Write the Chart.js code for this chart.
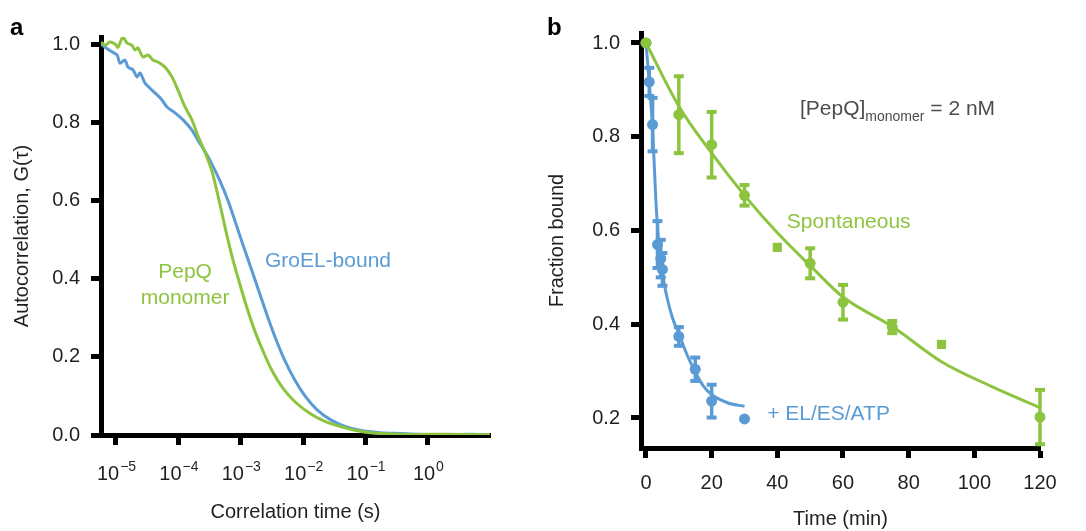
<!DOCTYPE html>
<html>
<head>
<meta charset="utf-8">
<script src="https://cdn.jsdelivr.net/npm/chart.js@4.4.0/dist/chart.umd.min.js"></script>
<style>
  html, body { margin: 0; padding: 0; background: #fff; }
  #wrap { position: relative; width: 1086px; height: 531px; }
  #boxA { position: absolute; left: 0; top: 0; width: 530px; height: 531px; }
  #boxB { position: absolute; left: 530px; top: 0; width: 556px; height: 531px; }
</style>
</head>
<body>
<div id="wrap">
  <div id="boxA"><canvas id="chartA"></canvas></div>
  <div id="boxB"><canvas id="chartB"></canvas></div>
</div>
<script>
// panel a: FCS autocorrelation curves (log time axis)
const monomerTau = [5.8e-6, 6.66e-6, 8.01e-6, 9.64e-6, 1.076e-5, 1.29e-5, 1.5e-5, 1.8e-5, 2.01e-5, 2.25e-5,
  2.71e-5, 3.26e-5, 3.92e-5, 4.71e-5, 6.1e-5, 7.89e-5, 9.86e-5, 1.28e-4, 1.65e-4, 2.06e-4, 2.57e-4,
  3.45e-4, 4.64e-4, 6.01e-4, 7.5e-4, 9.71e-4, 1.26e-3, 1.69e-3, 2.27e-3, 3.16e-3, 4.74e-3, 7.39e-3,
  1.29e-2, 2.23e-2, 3.89e-2, 6.76e-2, 0.118, 0.246, 0.515, 1.08, 2.25, 4.71, 9.8];
const monomerG = [1.005, 0.997, 1.005, 1.0, 0.992, 1.018, 1.003, 0.997, 0.985, 0.99,
  0.967, 0.972, 0.959, 0.954, 0.941, 0.916, 0.882, 0.839, 0.806, 0.765, 0.73,
  0.675, 0.59, 0.51, 0.448, 0.385, 0.325, 0.265, 0.215, 0.165, 0.12, 0.085,
  0.055, 0.035, 0.022, 0.012, 0.006, 0.003, 0.001, 0.002, 0.002, 0.001, 0.001];
const groelTau = [5.8e-6, 6.66e-6, 8.63e-6, 1.04e-5, 1.16e-5, 1.39e-5, 1.56e-5, 1.87e-5, 2.17e-5, 2.43e-5,
  2.92e-5, 3.51e-5, 4.22e-5, 5.46e-5, 6.57e-5, 8.82e-5, 1.19e-4, 1.65e-4, 2.06e-4, 2.67e-4, 3.45e-4,
  4.64e-4, 6.24e-4, 8.38e-4, 1.12e-3, 1.51e-3, 2.03e-3, 2.73e-3, 3.66e-3, 5.1e-3, 7.39e-3, 1.07e-2,
  1.66e-2, 2.69e-2, 4.68e-2, 8.13e-2, 0.17, 0.356, 0.745, 1.87, 4.71, 9.8];
const groelG = [1.0, 0.992, 0.98, 0.972, 0.951, 0.959, 0.941, 0.934, 0.916, 0.926,
  0.9, 0.887, 0.875, 0.857, 0.839, 0.824, 0.806, 0.78, 0.754, 0.725, 0.693,
  0.65, 0.6, 0.54, 0.48, 0.42, 0.36, 0.3, 0.245, 0.19, 0.14, 0.1,
  0.065, 0.04, 0.022, 0.012, 0.006, 0.004, 0.002, 0.001, 0.002, 0.001];
const decadeTicks = [1e-5, 1e-4, 1e-3, 1e-2, 1e-1, 1];
const decadeExps = ['\u22125', '\u22124', '\u22123', '\u22122', '\u22121', '0'];
const gTicks = [0, 0.2, 0.4, 0.6, 0.8, 1.0];

// panel b: release kinetics
const spontTime = [0, 10, 20, 30, 40, 50, 60, 75, 90, 120];
const spontFrac = [1.0, 0.847, 0.783, 0.675, 0.564, 0.53, 0.447, 0.394, 0.357, 0.202];
const spontErr  = [0, 0.082, 0.07, 0.022, 0, 0.032, 0.037, 0.013, 0, 0.058];
const spontFitTime = [0, 10, 20, 30, 40, 50, 60, 75, 90, 105, 120];
const spontFitFrac = [1.0, 0.865, 0.765, 0.675, 0.595, 0.525, 0.458, 0.395, 0.32, 0.268, 0.222];
const chapTime = [0, 1, 2, 3.5, 4.5, 5, 10, 15, 20, 30];
const chapFrac = [1.0, 0.917, 0.826, 0.57, 0.54, 0.517, 0.374, 0.304, 0.236, 0.198];
const chapErr  = [0, 0.03, 0.057, 0.05, 0.04, 0.035, 0.02, 0.025, 0.035, 0];
const chapFitTime = [0, 1, 2, 3, 4, 5, 6, 8, 10, 12.5, 15, 17.5, 20, 25, 30];
const chapFitFrac = [1.0, 0.915, 0.82, 0.665, 0.565, 0.51, 0.47, 0.415, 0.38, 0.335, 0.298, 0.268, 0.25, 0.232, 0.225];
const timeTicks = [0, 20, 40, 60, 80, 100, 120];
const fracTicks = [0.2, 0.4, 0.6, 0.8, 1.0];

const FONT = "'Liberation Sans', Arial, Helvetica, sans-serif";
const INK = '#231f20';
const GREEN = '#8dc43f';
const BLUE = '#5b9bd5';

const pts = (xs, ys) => xs.map((x, i) => ({x: x, y: ys[i]}));

function axis(o) {
  return Object.assign({
    border: {display: true, width: 5, color: '#000'},
    grid: {display: true, drawOnChartArea: false, drawTicks: true, tickLength: 10, tickWidth: 5, tickColor: '#000'},
  }, o);
}

// text placed in data coordinates (or pixels when px is set)
const textPlugin = {
  id: 'texts',
  afterDraw(chart, args, opts) {
    const ctx = chart.ctx, xs = chart.scales.x, ys = chart.scales.y;
    ctx.save();
    ctx.textBaseline = 'alphabetic';
    (opts.items || []).forEach(it => {
      let x = it.px ? it.x : xs.getPixelForValue(it.x);
      const y = it.px ? it.y : ys.getPixelForValue(it.y);
      const parts = it.parts || [{t: it.text}];
      ctx.fillStyle = it.color;
      const size = it.size || 21;
      const fontFor = p => (it.bold ? 'bold ' : '') + (p.sub ? Math.round(size * 0.68) : size) + 'px ' + FONT;
      let total = 0;
      parts.forEach(p => { ctx.font = fontFor(p); total += ctx.measureText(p.t).width; });
      if (it.align === 'center') x -= total / 2;
      ctx.textAlign = 'left';
      parts.forEach(p => {
        ctx.font = fontFor(p);
        ctx.fillText(p.t, x, y + size * 0.36 + (p.sub ? size * 0.3 : 0));
        x += ctx.measureText(p.t).width;
      });
    });
    ctx.restore();
  }
};

// vertical error bars with caps
const errorBarPlugin = {
  id: 'errorBars',
  afterDatasetsDraw(chart) {
    const ctx = chart.ctx, xs = chart.scales.x, ys = chart.scales.y;
    chart.data.datasets.forEach(ds => {
      if (!ds.errors) return;
      ctx.save();
      ctx.strokeStyle = ds.borderColor;
      ctx.fillStyle = ds.borderColor;
      ctx.lineWidth = 3.5;
      ds.data.forEach((p, i) => {
        const e = ds.errors[i];
        if (!e) return;
        const x = xs.getPixelForValue(p.x);
        const yTop = ys.getPixelForValue(p.y + e), yBot = ys.getPixelForValue(p.y - e);
        ctx.beginPath();
        ctx.moveTo(x, yTop); ctx.lineTo(x, yBot);
        ctx.stroke();
        ctx.fillRect(x - 5, yTop - 2, 10, 4);
        ctx.fillRect(x - 5, yBot - 2, 10, 4);
      });
      ctx.restore();
    });
  }
};

// superscript decade labels for the log axis
const decadeLabelPlugin = {
  id: 'decadeLabels',
  afterDraw(chart) {
    const ctx = chart.ctx, xs = chart.scales.x;
    ctx.save();
    ctx.fillStyle = INK;
    ctx.textAlign = 'left';
    ctx.textBaseline = 'alphabetic';
    decadeTicks.forEach((v, i) => {
      const px = xs.getPixelForValue(v);
      ctx.font = '20px ' + FONT;
      const wBase = ctx.measureText('10').width;
      ctx.font = '14px ' + FONT;
      const wExp = ctx.measureText(decadeExps[i]).width;
      const x0 = px - (wBase + wExp) / 2;
      ctx.font = '20px ' + FONT;
      ctx.fillText('10', x0, 480);
      ctx.font = '14px ' + FONT;
      ctx.fillText(decadeExps[i], x0 + wBase + 1, 471);
    });
    ctx.restore();
  }
};

const tickFont = {family: FONT, size: 20};
const titleFont = {family: FONT, size: 20};

new Chart(document.getElementById('chartA'), {
  type: 'line',
  data: {
    datasets: [
      {label: 'PepQ monomer', data: pts(monomerTau, monomerG), borderColor: GREEN, borderWidth: 3,
       pointRadius: 0, tension: 0.3, order: 0},
      {label: 'GroEL-bound', data: pts(groelTau, groelG), borderColor: BLUE, borderWidth: 3,
       pointRadius: 0, tension: 0.3, order: 1}
    ]
  },
  plugins: [textPlugin, decadeLabelPlugin],
  options: {
    responsive: true, maintainAspectRatio: false, animation: false,
    layout: {padding: {top: 37, right: 40, bottom: 0, left: 0}},
    plugins: {
      legend: {display: false}, tooltip: {enabled: false},
      texts: {items: [
        {text: 'a', x: 10, y: 26, px: true, color: '#000', bold: true, size: 24},
        {text: 'GroEL-bound', x: 2.44e-3, y: 0.448, color: BLUE},
        {text: 'PepQ', x: 1.28e-4, y: 0.422, color: GREEN, align: 'center'},
        {text: 'monomer', x: 1.28e-4, y: 0.355, color: GREEN, align: 'center'}
      ]}
    },
    scales: {
      x: axis({
        type: 'logarithmic', min: 5.75e-6, max: 9.9,
        afterBuildTicks: s => { s.ticks = decadeTicks.map(v => ({value: v})); },
        afterFit: s => { s.height = 96; },
        ticks: {callback: () => '', font: tickFont},
        title: {display: true, text: 'Correlation time (s)', color: INK, font: titleFont, padding: {top: 0, bottom: 7}}
      }),
      y: axis({
        min: 0, max: 1.018,
        afterBuildTicks: s => { s.ticks = gTicks.map(v => ({value: v})); },
        afterFit: s => { s.width = 101; },
        ticks: {callback: v => Number(v).toFixed(1), font: tickFont, color: INK, padding: 11},
        title: {display: true, text: 'Autocorrelation, G(\u03c4)', color: INK, font: titleFont, padding: {top: 10, bottom: 0}}
      })
    }
  }
});

new Chart(document.getElementById('chartB'), {
  type: 'line',
  data: {
    datasets: [
      {label: 'Spontaneous fit', data: pts(spontFitTime, spontFitFrac), borderColor: GREEN, borderWidth: 3,
       pointRadius: 0, cubicInterpolationMode: 'monotone', order: 2},
      {label: '+ EL/ES/ATP fit', data: pts(chapFitTime, chapFitFrac), borderColor: BLUE, borderWidth: 3,
       pointRadius: 0, cubicInterpolationMode: 'monotone', order: 2},
      {label: 'Spontaneous', data: pts(spontTime, spontFrac), errors: spontErr, showLine: false,
       borderColor: GREEN, backgroundColor: GREEN, pointBorderWidth: 0,
       pointStyle: ['circle', 'circle', 'circle', 'circle', 'rect', 'circle', 'circle', 'circle', 'rect', 'circle'],
       pointRadius: [5.5, 5.5, 5.5, 5.5, 6.5, 5.5, 5.5, 5.5, 6.5, 5.5], clip: false, order: 0},
      {label: '+ EL/ES/ATP', data: pts(chapTime, chapFrac), errors: chapErr, showLine: false,
       borderColor: BLUE, backgroundColor: BLUE, pointBorderWidth: 0, pointRadius: 5.5, clip: false, order: 1}
    ]
  },
  plugins: [textPlugin, errorBarPlugin],
  options: {
    responsive: true, maintainAspectRatio: false, animation: false,
    layout: {padding: {top: 33, right: 46, bottom: 0, left: 0}},
    plugins: {
      legend: {display: false}, tooltip: {enabled: false},
      texts: {items: [
        {text: 'b', x: 17, y: 26, px: true, color: '#000', bold: true, size: 24},
        {parts: [{t: '[PepQ]'}, {t: 'monomer', sub: true}, {t: ' = 2 nM'}], x: 46.9, y: 0.863, color: '#4d4d4f'},
        {text: 'Spontaneous', x: 42.9, y: 0.622, color: GREEN},
        {text: '+ EL/ES/ATP', x: 36.9, y: 0.211, color: BLUE}
      ]}
    },
    scales: {
      x: axis({
        type: 'linear', min: -1.52, max: 120,
        afterBuildTicks: s => { s.ticks = timeTicks.map(v => ({value: v})); },
        afterFit: s => { s.height = 83; },
        ticks: {font: tickFont, color: INK, padding: 13, maxRotation: 0, autoSkip: false},
        title: {display: true, text: 'Time (min)', color: INK, font: titleFont, padding: {top: 0, bottom: 0}}
      }),
      y: axis({
        min: 0.136, max: 1.0213,
        afterBuildTicks: s => { s.ticks = fracTicks.map(v => ({value: v})); },
        afterFit: s => { s.width = 111; },
        ticks: {callback: v => Number(v).toFixed(1), font: tickFont, color: INK, padding: 11},
        title: {display: true, text: 'Fraction bound', color: INK, font: titleFont, padding: {top: 15, bottom: 0}}
      })
    }
  }
});
</script>
</body>
</html>
